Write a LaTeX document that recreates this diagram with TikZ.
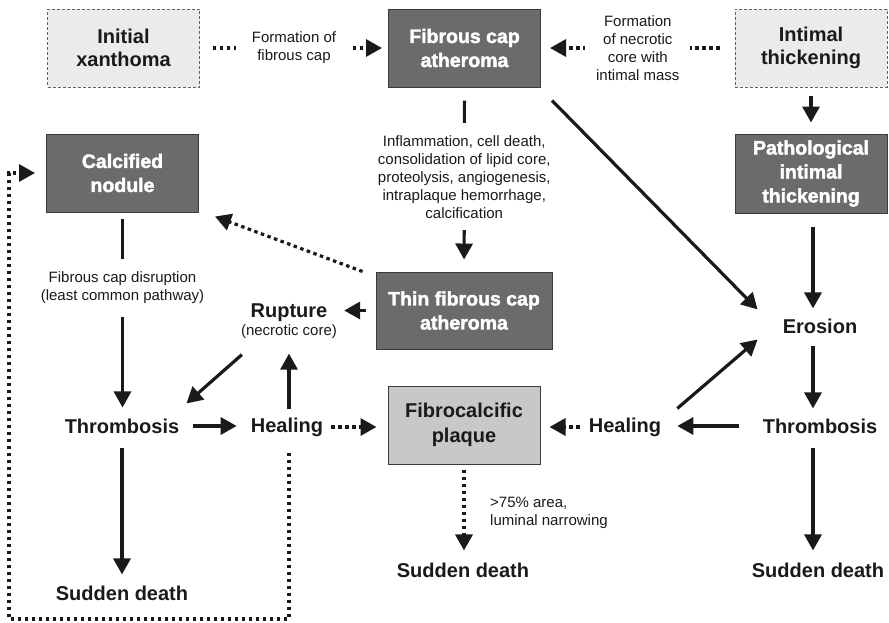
\documentclass[tikz,border=0pt]{standalone}
\usepackage{fontspec}
\setmainfont{Liberation Sans}
\newfontfamily\heavyfont{Liberation Sans Bold}[FakeBold=2]
\usetikzlibrary{arrows.meta}
\definecolor{darkfill}{HTML}{6B6B6B}
\definecolor{boxline}{HTML}{3A3A3A}
\definecolor{lightfill}{HTML}{EBEBEB}
\definecolor{midfill}{HTML}{C8C8C8}
\definecolor{ink}{HTML}{1A1A1A}
\newcommand{\smallfont}{\fontsize{15}{18}\selectfont\mdseries}
\tikzset{
  darkbox/.style={draw=boxline, fill=darkfill, line width=1pt, minimum width=152pt,
    minimum height=78pt, inner sep=0pt, align=center, text=white,
    font={\fontsize{19.5}{24}\selectfont\heavyfont}},
  lightbox/.style={draw=boxline!80, fill=lightfill, line width=0.9pt, dash pattern=on 3pt off 2pt,
    minimum width=152pt, minimum height=78pt, inner sep=0pt, align=center, text=ink,
    font={\fontsize{20}{23}\selectfont\bfseries}},
  midbox/.style={draw=boxline, fill=midfill, line width=1pt, minimum width=152pt,
    minimum height=78pt, inner sep=0pt, align=center, text=ink,
    font={\fontsize{20}{25}\selectfont\bfseries}},
  lbl/.style={inner sep=0pt, align=center, text=ink, font={\fontsize{20}{23}\selectfont\bfseries}},
  small/.style={inner sep=0pt, align=center, text=ink, font=\smallfont},
  arr/.style={draw=ink, line width=3.2pt, -{Triangle[length=16pt,width=17pt]}},
  dotarr/.style={draw=ink, line width=3.2pt, dash pattern=on 3.5pt off 3.5pt,
    -{Triangle[length=16pt,width=17pt]}},
  plain/.style={draw=ink, line width=3.2pt},
}
\begin{document}
\begin{tikzpicture}[x=1pt,y=-1pt]
\useasboundingbox (0,0) rectangle (889,622);

% boxes
\node[lightbox] (xan)  at (123.5,48)  {Initial\\xanthoma};
\node[darkbox]  (fca)  at (464.5,48)  {Fibrous cap\\atheroma};
\node[lightbox] (inti) at (811,48)    {Intimal\\thickening};
\node[darkbox]  (calc) at (122.5,173) {Calcified\\nodule};
\node[darkbox, minimum height=79pt] (path) at (811,173.5) {Pathological\\intimal\\thickening};
\node[darkbox, minimum width=176pt, minimum height=77pt] (thin) at (464,310.5) {Thin fibrous cap\\atheroma};
\node[midbox]   (fibro) at (464,425)  {Fibrocalcific\\plaque};

% text labels
\node[lbl] (thrombL) at (122,426) {Thrombosis};
\node[lbl] (healL)   at (287,427) {Healing};
\node[lbl] (rupt)    at (289,321) {Rupture\\[-5pt]{\smallfont (necrotic core)}};
\node[lbl] (healR)   at (625,427) {Healing};
\node[lbl] (thrombR) at (820,426) {Thrombosis};
\node[lbl] (eros)    at (820,326) {Erosion};
\node[lbl] (sdL)     at (122,593) {Sudden death};
\node[lbl] (sdM)     at (463,570) {Sudden death};
\node[lbl] (sdR)     at (818,570) {Sudden death};
\node[small, align=left, anchor=west] (narrow) at (490,513) {>75\% area,\\luminal narrowing};

% top row dotted connectors
\draw[dotarr, shorten <=13pt, shorten >=6pt] (xan) -- (fca)
  node[midway, small, fill=white, inner xsep=16pt, inner ysep=2pt] {Formation of\\fibrous cap};
\draw[dotarr, shorten <=15pt, shorten >=9pt] (inti) -- (fca)
  node[midway, small, fill=white, inner xsep=11pt, inner ysep=2pt] {Formation\\of necrotic\\core with\\intimal mass};

% fibrous cap atheroma -> thin fibrous cap atheroma
\draw[arr, shorten <=13pt, shorten >=12pt] (fca) -- (thin)
  node[pos=0.486, small, fill=white, inner xsep=2pt, inner ysep=12pt]
  {Inflammation, cell death,\\consolidation of lipid core,\\proteolysis, angiogenesis,\\intraplaque hemorrhage,\\calcification};

% fibrous cap atheroma -> erosion
\draw[arr] ([shift={(11,13)}]fca.south east) -- ([shift={(-25,-9)}]eros.north west);

% right column
\draw[arr, shorten <=9pt, shorten >=11pt] (inti.south -| path.south) -- (path.north);
\draw[arr, shorten <=13pt, shorten >=10pt] ([xshift=2pt]path.south) -- ([xshift=2pt]path.south |- eros.north);
\draw[arr, shorten <=12pt, shorten >=10pt] ([xshift=2pt]path.south |- eros.south) -- ([xshift=2pt]path.south |- thrombR.north);
\draw[arr, shorten <=14pt, shorten >=12pt] ([xshift=2pt]path.south |- thrombR.south) -- ([xshift=2pt]path.south |- sdR.north);
\draw[arr, shorten <=24pt, shorten >=16pt] (thrombR.west) -- (thrombR.west -| healR.east);
\draw[arr] ([shift={(16,-9)}]healR.north east) -- ([shift={(-25,6)}]eros.south west);
\draw[dotarr, shorten <=9pt, shorten >=9pt] (healR.west) -- (healR.west -| fibro.east);

% fibrocalcific -> sudden death
\draw[dotarr, shorten <=5pt, shorten >=12pt] (fibro.south) -- (fibro.south |- sdM.north);

% thin fibrous cap -> rupture, calcified nodule
\draw[arr, shorten <=10pt, shorten >=7pt] (thin.west) -- (thin.west -| rupt.east);
\draw[dotarr] ([xshift=-13pt]thin.north west) -- ([shift={(16,4)}]calc.south east);

% left column
\draw[arr, shorten <=6pt, shorten >=11pt] (calc.south) -- (calc.south |- thrombL.north)
  node[pos=0.367, small, fill=white, inner xsep=2pt, inner ysep=13pt]
  {Fibrous cap disruption\\(least common pathway)};
\draw[arr, shorten <=14pt, shorten >=14pt] (thrombL.east) -- (thrombL.east -| healL.west);
\draw[arr, shorten <=14pt, shorten >=11pt] (thrombL.south) -- (thrombL.south |- sdL.north);
\draw[arr] ([shift={(1,16)}]rupt.south west) -- ([shift={(7,-15)}]thrombL.north east);
\draw[arr, shorten <=8pt, shorten >=15pt] ([xshift=2pt]healL.north) -- ([xshift=2pt]healL.north |- rupt.south);
\draw[dotarr, shorten <=8pt, shorten >=11pt] (healL.east) -- (healL.east -| fibro.west);

% dotted loop back to calcified nodule
\coordinate (loopBL) at (9,619);
\draw[dotarr, shorten >=11pt] ([shift={(2,16)}]healL.south) |- (loopBL) |- (calc.west);
\end{tikzpicture}
\end{document}
